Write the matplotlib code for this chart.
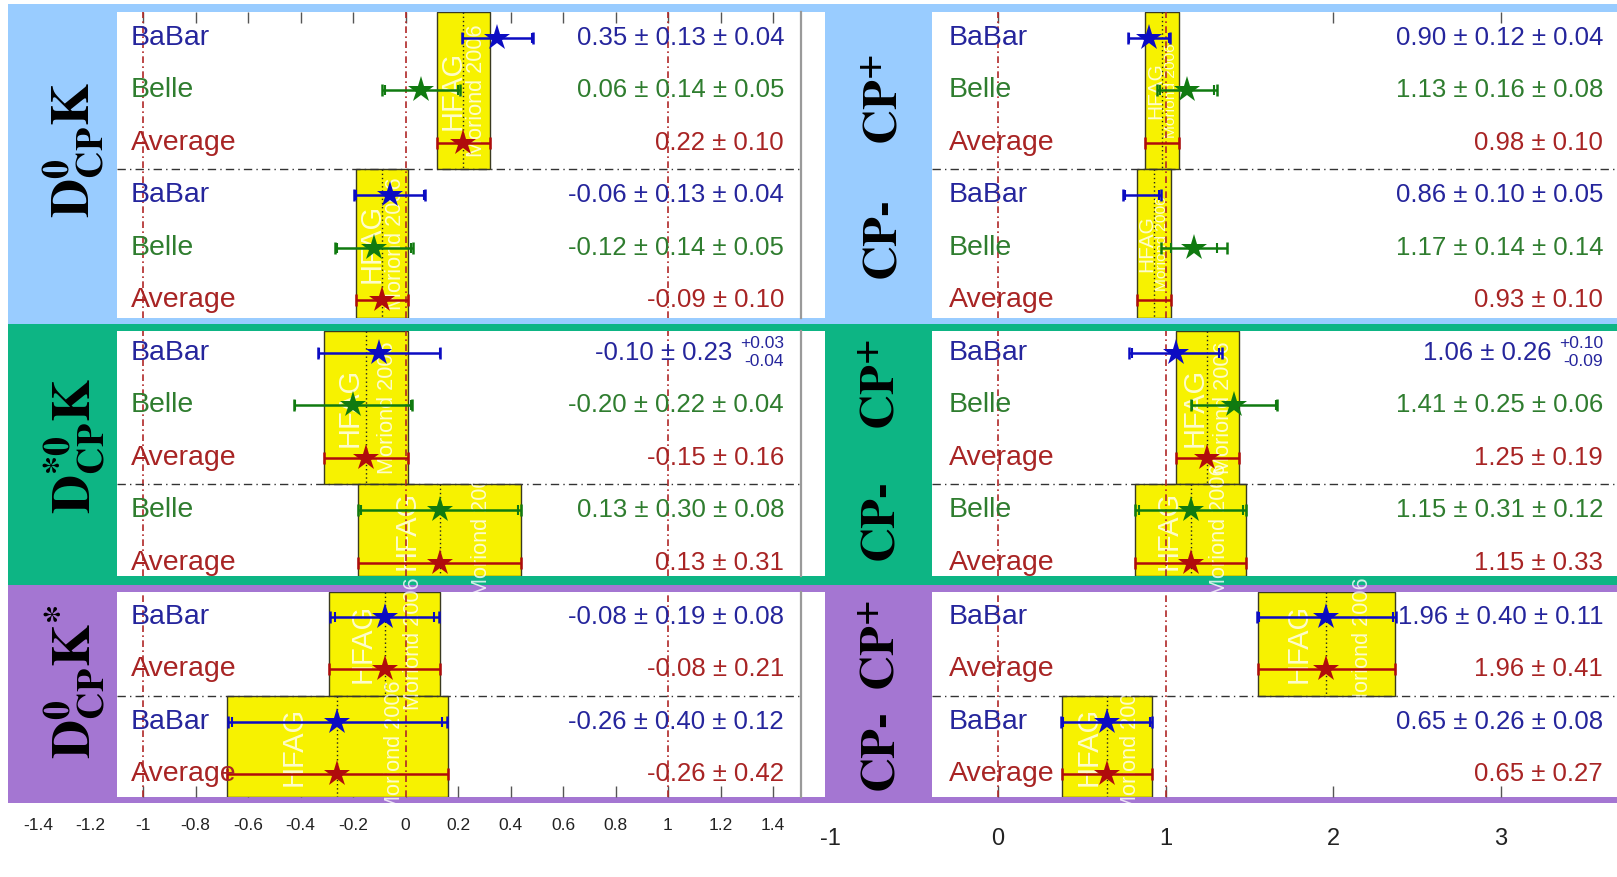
import numpy as np
import matplotlib.pyplot as plt
from matplotlib.patches import Rectangle
from matplotlib.transforms import offset_copy

plt.rcParams["font.family"] = "Liberation Sans"
plt.rcParams["mathtext.fontset"] = "stix"

nan = np.nan

# rows shared by both columns: panel 0 = D0 K, 1 = D*0 K, 2 = D0 K*; group 0 = CP+, 1 = CP-
row_panel = [0, 0, 0, 0, 0, 0, 1, 1, 1, 1, 1, 2, 2, 2, 2]
row_group = [0, 0, 0, 1, 1, 1, 0, 0, 0, 1, 1, 0, 0, 1, 1]
row_exp = ["BaBar", "Belle", "Average", "BaBar", "Belle", "Average",
           "BaBar", "Belle", "Average", "Belle", "Average",
           "BaBar", "Average", "BaBar", "Average"]

# A_CP (left column); averages carry their total error in *_stat
acp_val = [0.35, 0.06, 0.22, -0.06, -0.12, -0.09,
           -0.10, -0.20, -0.15, 0.13, 0.13,
           -0.08, -0.08, -0.26, -0.26]
acp_stat = [0.13, 0.14, 0.10, 0.13, 0.14, 0.10,
            0.23, 0.22, 0.16, 0.30, 0.31,
            0.19, 0.21, 0.40, 0.42]
acp_syst_up = [0.04, 0.05, nan, 0.04, 0.05, nan,
               0.03, 0.04, nan, 0.08, nan,
               0.08, nan, 0.12, nan]
acp_syst_dn = [0.04, 0.05, nan, 0.04, 0.05, nan,
               0.04, 0.04, nan, 0.08, nan,
               0.08, nan, 0.12, nan]
acp_star = [True] * 15

# R_CP (right column)
rcp_val = [0.90, 1.13, 0.98, 0.86, 1.17, 0.93,
           1.06, 1.41, 1.25, 1.15, 1.15,
           1.96, 1.96, 0.65, 0.65]
rcp_stat = [0.12, 0.16, 0.10, 0.10, 0.14, 0.10,
            0.26, 0.25, 0.19, 0.31, 0.33,
            0.40, 0.41, 0.26, 0.27]
rcp_syst_up = [0.04, 0.08, nan, 0.05, 0.14, nan,
               0.10, 0.06, nan, 0.12, nan,
               0.11, nan, 0.08, nan]
rcp_syst_dn = [0.04, 0.08, nan, 0.05, 0.14, nan,
               0.09, 0.06, nan, 0.12, nan,
               0.11, nan, 0.08, nan]
rcp_star = [True, True, False, False, True, False,
            True, True, True, True, True,
            True, True, True, True]

left_ticks = [-1.4, -1.2, -1, -0.8, -0.6, -0.4, -0.2, 0, 0.2, 0.4, 0.6, 0.8, 1, 1.2, 1.4]
right_ticks = [-1, 0, 1, 2, 3]
ref_lines = [[-1, 0, 1], [0, 1]]

panel_titles = [r"$\mathbf{D}^{\mathbf{0}}_{\mathbf{CP}}\mathbf{K}$",
                r"$\mathbf{D}^{\mathbf{*0}}_{\mathbf{CP}}\mathbf{K}$",
                r"$\mathbf{D}^{\mathbf{0}}_{\mathbf{CP}}\mathbf{K}^{\mathbf{*}}$"]

text_col = {"BaBar": "#25259C", "Belle": "#2F7D2F", "Average": "#A82424"}
mark_col = {"BaBar": "#0C0CC2", "Belle": "#107A10", "Average": "#B00C0C"}
band_colors = ["#99CCFF", "#0DB584", "#A476D2"]
yellow = "#F7F200"

# layout in pixels (y from the top)
W, H = 1617, 877
band_y = [(4, 324), (324, 585), (585, 803)]
plot_y = [(12, 318), (331, 576), (592, 797)]
first_row_y = [38, 353, 617]
row_pitch = 52.4
col_plot_x = [(117, 801), (932, 1617)]
col_zero = [405.5, 998.0]
col_scale = [262.5, 167.5]

fig = plt.figure(figsize=(W / 100, H / 100), dpi=100)


def px_axes(x0, x1, y0, y1):
    return fig.add_axes([x0 / W, 1 - y1 / H, (x1 - x0) / W, (y1 - y0) / H])


def px_rect(x0, x1, y0, y1, color):
    fig.patches.append(Rectangle((x0 / W, 1 - y1 / H), (x1 - x0) / W, (y1 - y0) / H,
                                 transform=fig.transFigure, color=color, lw=0, zorder=-2))


def px_xlim(c, x0px, x1px):
    return ((x0px - col_zero[c]) / col_scale[c], (x1px - col_zero[c]) / col_scale[c])


# coloured frames behind each row of panels
for b in range(3):
    px_rect(8, W, band_y[b][0], band_y[b][1], band_colors[b])
    px_rect(801, 825, plot_y[b][0], plot_y[b][1], "white")


def watermark(ax, rect, lo, width, ymid, scale):
    fs = min(21, 0.45 * width * scale)
    for frac, txt, size in [(0.3, "HFAG", fs), (0.76, "Moriond 2006", fs * 0.74)]:
        t = ax.text(lo + frac * width, ymid, txt, rotation=90, ha="center", va="center",
                    color="white", alpha=0.8, fontsize=size, zorder=1.6)
        t.set_clip_path(rect)


columns = [(acp_val, acp_stat, acp_syst_up, acp_syst_dn, acp_star),
           (rcp_val, rcp_stat, rcp_syst_up, rcp_syst_dn, rcp_star)]
col_ticks = [left_ticks, right_ticks]
name_pad = [14, 17]
value_pad = [17, 14]

for c in range(2):
    val, stat, sup, sdn, star = columns[c]
    x0px, x1px = col_plot_x[c]
    for p in range(3):
        y0px, y1px = plot_y[p]
        ax = px_axes(x0px, x1px, y0px, y1px)
        rows = [i for i, q in enumerate(row_panel) if q == p]
        top = 0.5 - (first_row_y[p] - y0px) / row_pitch
        bot = 0.5 + (y1px - first_row_y[p]) / row_pitch
        ax.set_xticks(col_ticks[c])
        ax.set_xlim(*px_xlim(c, x0px, x1px))
        ax.set_ylim(bot, top)
        ax.set_yticks([])
        ax.set_axisbelow(True)
        for side in ["left", "top", "bottom", "right"]:
            ax.spines[side].set_visible(False)
        if c == 0:
            ax.spines["right"].set_visible(True)
            ax.spines["right"].set_color("#9a9a9a")
            ax.spines["right"].set_linewidth(1.6)
        ax.tick_params(axis="x", direction="in", length=8, width=1, color="#555555",
                       labelbottom=False, labeltop=False,
                       top=(p == 0), bottom=(p == 2))

        sep = sum(1 for i in rows if row_group[i] == 0)
        for g, (ga, gb) in enumerate([(top, sep), (sep, bot)]):
            avg = [i for i in rows if row_group[i] == g and row_exp[i] == "Average"][0]
            m, e = val[avg], stat[avg]
            rect = Rectangle((m - e, ga), 2 * e, gb - ga, fc=yellow, ec="#3a3a20",
                             lw=1.0, zorder=1)
            ax.add_patch(rect)
            ax.plot([m, m], [ga, gb], ls=(0, (1, 2)), color="#222222", lw=1, zorder=1.5)
            watermark(ax, rect, m - e, 2 * e, (ga + gb) / 2, col_scale[c])

        for x in ref_lines[c]:
            ax.axvline(x, color="#B02828", ls=(0, (4, 2, 1, 2)), lw=1.2, zorder=2)
        ax.axhline(sep, color="#333333", ls=(0, (6, 3, 1, 3)), lw=1, zorder=2)

        name_tr = offset_copy(ax.get_yaxis_transform(), fig=fig, x=name_pad[c], y=0, units="dots")
        for k, i in enumerate(rows):
            y = k + 0.5
            exp = row_exp[i]
            v, s = val[i], stat[i]
            is_avg = exp == "Average"
            if is_avg:
                lo = hi = s
            else:
                lo = np.hypot(s, sdn[i])
                hi = np.hypot(s, sup[i])
            ax.errorbar([v], [y], xerr=[[lo], [hi]], fmt="none", ecolor=mark_col[exp],
                        elinewidth=1.8, capsize=4.5, capthick=1.8, zorder=3)
            if not is_avg:
                ax.plot([v - s, v + s], [y, y], ls="none", marker="|", ms=7, mew=1.5,
                        color=mark_col[exp], zorder=3)
            if star[i]:
                ax.plot([v], [y], marker="*", ms=20, mew=0, color=mark_col[exp], zorder=4)

            ax.text(0, y, exp, transform=name_tr, ha="left", va="center",
                    fontsize=20.5, color=text_col[exp], zorder=5)

            asym = (not is_avg) and not np.isclose(sup[i], sdn[i])
            if is_avg or asym:
                txt = f"{v:.2f} \u00b1 {s:.2f}"
            else:
                txt = f"{v:.2f} \u00b1 {s:.2f} \u00b1 {sup[i]:.2f}"
            shift = 52 if asym else 0
            val_tr = offset_copy(ax.get_yaxis_transform(), fig=fig,
                                 x=-value_pad[c] - shift, y=0, units="dots")
            ax.text(1, y, txt, transform=val_tr, ha="right", va="center",
                    fontsize=18.5, color=text_col[exp], zorder=5)
            if asym:
                for dy, small in [(10, f"+{sup[i]:.2f}"), (-9, f"-{sdn[i]:.2f}")]:
                    sm_tr = offset_copy(ax.get_yaxis_transform(), fig=fig,
                                        x=-value_pad[c], y=dy, units="dots")
                    ax.text(1, y, small, transform=sm_tr, ha="right", va="center",
                            fontsize=12.5, color=text_col[exp], zorder=5)

# decay mode labels on the left, CP labels on the right
title_pos = [(74, 150), (75, 446), (75, 682)]
for p in range(3):
    x, y = title_pos[p]
    fig.text(x / W, 1 - y / H, panel_titles[p], rotation=90, ha="center", va="center",
             fontsize=39, color="black")

cp_pos = [((885, 100), (884, 237)), ((882, 385), (882, 520)), ((882, 646), (882, 749))]
for p in range(3):
    (xa, ya), (xb, yb) = cp_pos[p]
    fig.text(xa / W, 1 - ya / H, r"$\mathbf{CP}^{\mathbf{+}}$", rotation=90,
             ha="center", va="center", fontsize=35, color="black")
    fig.text(xb / W, 1 - yb / H, "CP-", rotation=90, ha="center", va="center",
             fontsize=35, color="black", family="STIXGeneral", weight="bold")

# shared tick labels below each column
tick_axes = [((0, 801), 815, 12.5, left_ticks), ((805, 1617), 825, 17, right_ticks)]
for c, ((x0px, x1px), ypx, size, ticks) in enumerate(tick_axes):
    tax = px_axes(x0px, x1px, ypx - 1, ypx)
    tax.set_xticks(ticks)
    tax.set_xticklabels([f"{t:g}" for t in ticks])
    tax.set_xlim(*px_xlim(c, x0px, x1px))
    tax.set_yticks([])
    tax.tick_params(axis="x", length=0, pad=2, labelsize=size, labelcolor="#222222")
    tax.patch.set_alpha(0)
    for side in tax.spines:
        tax.spines[side].set_visible(False)

fig.savefig("out.png", dpi=100)
